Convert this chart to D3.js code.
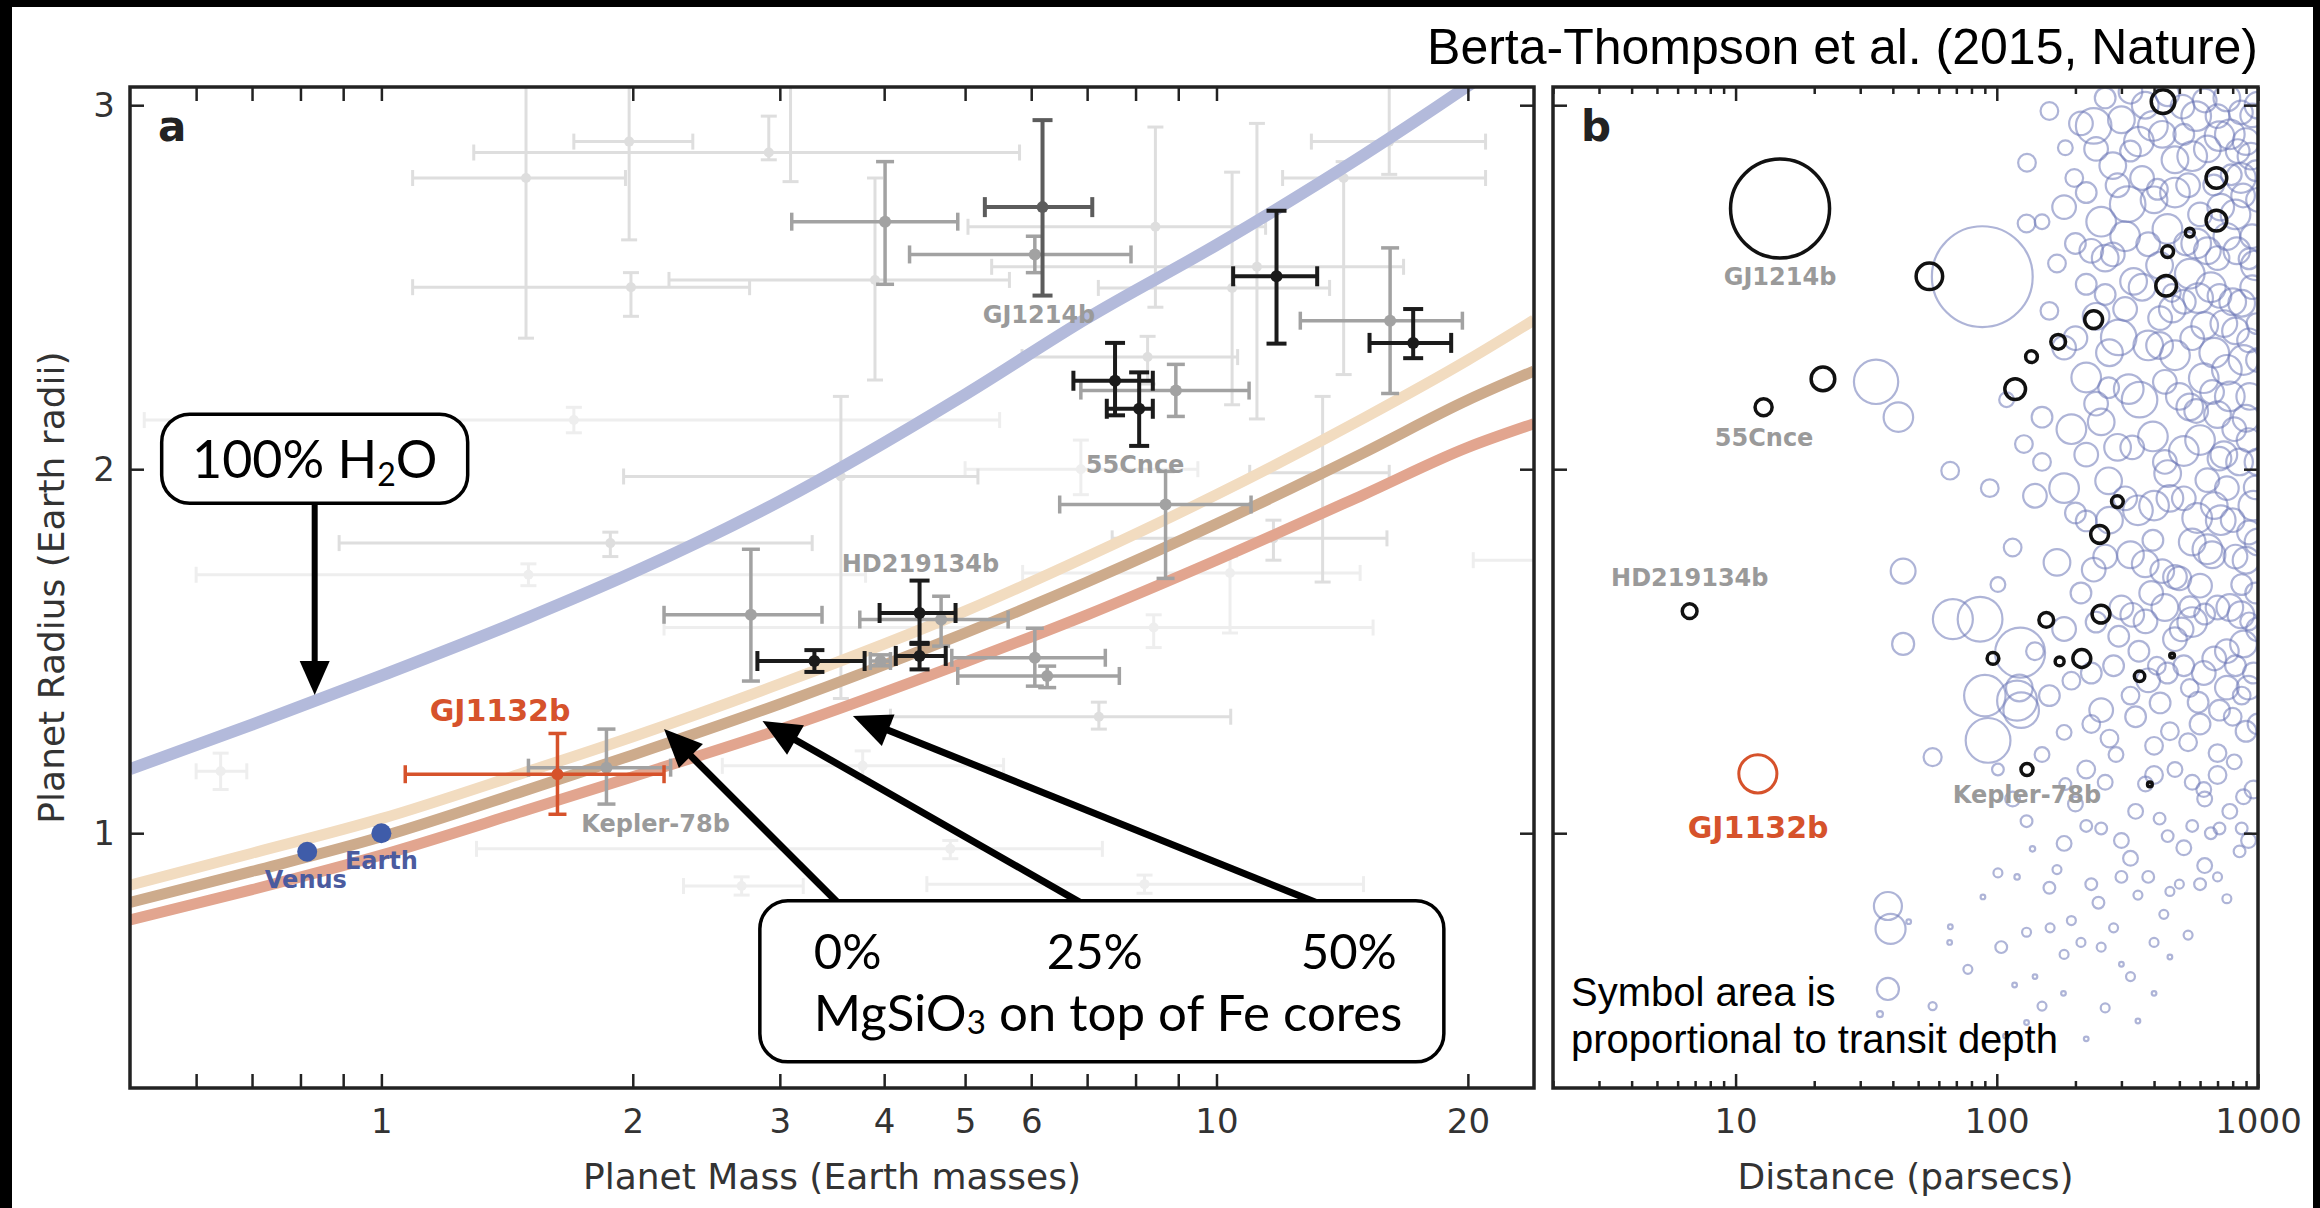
<!DOCTYPE html>
<html>
<head>
<meta charset="utf-8">
<script src="https://cdn.jsdelivr.net/npm/d3@7"></script>
<style>
  body { margin: 0; background: #000; }
  svg { display: block; }
</style>
</head>
<body>
<svg id="chart" width="2320" height="1208"></svg>
<script>
// ---------------- data ----------------
// composition curves (Earth masses -> Earth radii)
const curveMass = [0.5, 0.7, 1, 1.5, 2, 3, 5, 7, 10, 15, 20, 24];
const waterRadius = [1.176, 1.298, 1.433, 1.593, 1.716, 1.912, 2.205, 2.415, 2.616, 2.863, 3.053, 3.179];
const rock0Radius = [0.857, 0.945, 1.04, 1.17, 1.265, 1.41, 1.61, 1.76, 1.93, 2.14, 2.30, 2.41];
const rock25Radius = [0.81, 0.895, 0.99, 1.12, 1.215, 1.355, 1.55, 1.69, 1.85, 2.045, 2.19, 2.27];
const rock50Radius = [0.762, 0.845, 0.94, 1.065, 1.155, 1.285, 1.47, 1.60, 1.75, 1.93, 2.06, 2.125];

// planets with masses: [mass, massLo, massHi, radius, radiusLo, radiusHi]
const faintPlanets = [
  [6.88, 5.0, 9.5, 2.0, 1.93, 2.08],
  [10.38, 5.86, 14.86, 1.715, 1.55, 1.76],
  [8.41, 2.18, 15.4, 1.565, 1.51, 1.60],
  [3.77, 2.56, 5.56, 1.185, 1.149, 1.226],
  [4.8, 1.3, 7.3, 0.957, 0.93, 0.98],
  [2.70, 2.3, 3.2, 0.855, 0.83, 0.88],
  [8.2, 4.5, 15, 0.86, 0.835, 0.885],
  [26, 20.3, 33, 1.75, 1.70, 1.80],
  [0.642, 0.6, 0.69, 1.17, 1.12, 1.22],
  [1.5, 0.6, 3.8, 1.71, 1.68, 1.74],
  [1.7, 0.52, 5.5, 2.135, 2.10, 2.17]
];
const lightPlanets = [
  [1.49, 1.09, 1.96, 2.80, 2.36, 3.10],
  [1.98, 1.70, 2.36, 2.90, 2.63, 3.15],
  [1.99, 1.09, 2.76, 2.50, 2.42, 2.54],
  [2.91, 1.29, 5.81, 2.87, 2.85, 2.97],
  [3.09, 2.6, 3.6, 3.12, 2.79, 3.4],
  [3.9, 2.21, 5.65, 2.52, 2.245, 2.80],
  [8.45, 5.04, 11.45, 2.666, 2.445, 2.94],
  [10.44, 7.22, 13.66, 2.498, 2.177, 2.816],
  [11.18, 5.38, 16.75, 2.556, 2.138, 2.95],
  [14.2, 12.0, 21, 2.80, 2.26, 2.845],
  [16.1, 12.99, 21.0, 2.90, 2.81, 3.2],
  [8.27, 5.85, 10.6, 2.308, 2.234, 2.365],
  [3.55, 1.95, 5.18, 1.98, 1.37, 2.2],
  [13.4, 10.96, 16.1, 1.99, 1.69, 2.2],
  [11.7, 7.5, 16.0, 1.81, 1.75, 1.86],
  [1.88, 0.89, 3.28, 1.797, 1.76, 1.827],
  [7.23, 4.07, 10.4, 1.32, 1.286, 1.36]
];
const grayPlanets = [
  [4.01, 3.10, 4.90, 2.68, 2.508, 2.845],
  [6.06, 4.29, 7.9, 2.59, 2.54, 2.64],
  [16.14, 12.6, 19.7, 2.408, 2.208, 2.608],
  [8.94, 6.88, 10.94, 2.216, 2.145, 2.288],
  [8.69, 6.49, 11.0, 1.903, 1.70, 1.994],
  [2.77, 2.18, 3.37, 1.60, 1.418, 1.78],
  [4.68, 3.74, 5.63, 1.587, 1.514, 1.651],
  [6.06, 4.82, 7.36, 1.482, 1.404, 1.563],
  [6.27, 4.9, 7.65, 1.432, 1.40, 1.459],
  [1.86, 1.5, 2.22, 1.18, 1.08, 1.286],
  [3.96, 3.85, 4.07, 1.473, 1.46, 1.49]
];
const darkPlanets = [
  [11.8, 10.47, 13.2, 2.53, 2.345, 2.71],
  [17.2, 15.25, 19.1, 2.347, 2.305, 2.44],
  [7.56, 6.74, 8.39, 2.243, 2.148, 2.347],
  [8.08, 7.39, 8.39, 2.166, 2.064, 2.266],
  [4.41, 3.95, 4.87, 1.605, 1.52, 1.694],
  [4.41, 4.13, 4.74, 1.487, 1.45, 1.523],
  [3.30, 2.82, 3.79, 1.473, 1.443, 1.503]
];
const gj1214bMass = [6.19, 5.28, 7.1, 2.72, 2.477, 2.959];
const gj1132bMass = [1.625, 1.068, 2.18, 1.162, 1.052, 1.274];
const solarSystem = [["Venus", 0.815, 0.949], ["Earth", 1.0, 1.0]];

// label anchors in data units: [text, mass, radius]
const grayLabelsA = [["GJ1214b", 6.13, 2.424], ["55Cnce", 7.99, 2.012], ["HD219134b", 4.42, 1.74], ["Kepler-78b", 2.13, 1.025]];
const solarLabels = [["Venus", 0.812, 0.871], ["Earth", 1.0, 0.924]];
const gj1132bLabelA = ["GJ1132b", 1.387, 1.338];

// panel b: [distance pc, radius, transit depth %]
const candidates = [
  [234.9, 2.943, 0.174], [325, 3.037, 0.077], [396, 2.943, 0.121], [514, 2.996, 0.077], [625, 3.013, 0.077],
  [712, 2.915, 0.121], [836, 2.874, 0.077], [950, 2.972, 0.077], [325, 2.874, 0.059], [183, 2.883, 0.030],
  [159, 2.984, 0.043], [278, 2.834, 0.098], [481, 2.85, 0.098], [790, 2.809, 0.059],
  [181, 2.72, 0.077], [149, 2.68, 0.030], [251, 2.68, 0.121], [317, 2.728, 0.174], [380, 2.618, 0.077],
  [481, 2.76, 0.121], [600, 2.70, 0.077], [760, 2.639, 0.098], [877, 2.752, 0.077], [170, 2.565, 0.043],
  [220, 2.508, 0.059], [334, 2.516, 0.098], [548, 2.537, 0.121], [712, 2.476, 0.077], [924, 2.578, 0.059],
  [412, 2.769, 0.059], [278, 2.59, 0.077], [677, 2.781, 0.059], [468, 2.484, 0.043], [198, 2.80, 0.043],
  [181, 2.334, 0.077], [220, 2.252, 0.121], [293, 2.362, 0.174], [352, 2.191, 0.174], [481, 2.313, 0.121],
  [625, 2.395, 0.098], [760, 2.273, 0.121], [924, 2.354, 0.077], [149, 2.143, 0.059], [193, 2.11, 0.121],
  [251, 2.13, 0.098], [396, 2.09, 0.121], [548, 2.171, 0.098], [811, 2.11, 0.077], [109, 2.191, 0.030],
  [127, 2.069, 0.043], [422, 2.415, 0.077], [866, 2.456, 0.098], [667, 2.212, 0.077], [268, 2.224, 0.059],
  [159, 2.435, 0.043],
  [94, 1.948, 0.043], [140, 1.927, 0.077], [181, 1.948, 0.121], [220, 1.858, 0.059], [268, 1.968, 0.098],
  [347, 1.887, 0.121], [451, 1.988, 0.098], [585, 1.866, 0.121], [760, 1.948, 0.077], [924, 1.826, 0.077],
  [115, 1.785, 0.043], [170, 1.744, 0.098], [235, 1.724, 0.077], [325, 1.765, 0.098], [481, 1.704, 0.077],
  [667, 1.765, 0.098], [866, 1.683, 0.059], [101, 1.683, 0.030], [396, 1.805, 0.059], [712, 2.029, 0.077],
  [149, 2.02, 0.043],
  [140, 1.50, 0.043], [181, 1.561, 0.077], [293, 1.541, 0.059], [371, 1.582, 0.077], [481, 1.533, 0.077],
  [625, 1.602, 0.059], [760, 1.50, 0.077], [924, 1.582, 0.043], [122, 1.399, 0.098], [159, 1.378, 0.059],
  [193, 1.419, 0.043], [251, 1.338, 0.077], [325, 1.378, 0.043], [422, 1.358, 0.059], [548, 1.399, 0.043],
  [712, 1.338, 0.059], [866, 1.378, 0.043], [90, 1.378, 0.237], [124, 1.338, 0.174], [548, 1.622, 0.059],
  [410, 1.46, 0.043], [181, 1.277, 0.030],
  [101, 1.175, 0.019], [149, 1.216, 0.030], [183, 1.135, 0.019], [220, 1.175, 0.043], [286, 1.216, 0.030],
  [371, 1.135, 0.030], [481, 1.175, 0.030], [625, 1.094, 0.030], [811, 1.196, 0.030], [130, 1.033, 0.019],
  [181, 0.972, 0.030], [251, 1.013, 0.019], [325, 0.931, 0.030], [451, 0.992, 0.019], [625, 0.911, 0.030],
  [866, 1.013, 0.019], [101, 0.891, 0.011], [159, 0.85, 0.019], [245, 0.809, 0.019], [347, 0.83, 0.011],
  [115, 1.094, 0.030], [712, 1.013, 0.019],
  [46, 0.757, 0.003], [66, 0.70, 0.003], [77.5, 0.626, 0.011], [104, 0.687, 0.019], [130, 0.728, 0.011],
  [181, 0.667, 0.011], [251, 0.687, 0.011], [325, 0.606, 0.011], [149, 0.525, 0.011], [108, 0.443, 0.003],
  [220, 0.435, 0.003], [347, 0.484, 0.003], [140, 0.606, 0.003], [193, 0.76, 0.011], [436, 0.777, 0.011],
  [67.9, 1.588, 0.22], [86.3, 1.588, 0.276], [122.8, 1.496, 0.344], [119.6, 1.364, 0.22], [92.6, 1.255, 0.276],
  [56.8, 1.209, 0.045], [43.8, 1.52, 0.067], [43.8, 1.72, 0.085], [38.3, 0.80, 0.108], [39.2, 0.737, 0.124],
  [38.3, 0.572, 0.067], [35.7, 0.503, 0.005], [56.8, 0.525, 0.009], [66.4, 0.743, 0.003], [88.5, 0.825, 0.003],
  [117, 0.583, 0.003], [119.6, 0.88, 0.004], [137, 0.957, 0.004],
  [88, 2.529, 1.4], [34.5, 2.24, 0.27], [42, 2.143, 0.12], [130.5, 2.842, 0.043], [130, 2.675, 0.043],
  [66.3, 1.996, 0.043],
  [430, 2.92, 0.098], [560, 2.86, 0.121], [700, 2.97, 0.077], [900, 2.90, 0.098], [980, 2.82, 0.059],
  [450, 2.66, 0.121], [530, 2.62, 0.077], [640, 2.60, 0.098], [820, 2.70, 0.121], [950, 2.64, 0.077],
  [470, 2.44, 0.098], [590, 2.47, 0.121], [740, 2.40, 0.098], [880, 2.30, 0.121], [990, 2.40, 0.059],
  [440, 2.24, 0.077], [620, 2.25, 0.121], [700, 2.15, 0.098], [930, 2.20, 0.098], [520, 2.05, 0.121],
  [460, 1.92, 0.098], [640, 1.97, 0.077], [850, 2.02, 0.098], [980, 1.95, 0.077], [560, 1.80, 0.098],
  [720, 1.86, 0.121], [900, 1.75, 0.098], [430, 1.72, 0.077], [600, 1.68, 0.077], [780, 1.62, 0.098],
  [980, 1.66, 0.059], [510, 1.56, 0.077], [680, 1.48, 0.077], [880, 1.52, 0.098], [450, 1.44, 0.059],
  [590, 1.36, 0.059], [760, 1.40, 0.077], [960, 1.44, 0.059], [540, 1.25, 0.043], [700, 1.22, 0.043],
  [900, 1.28, 0.059], [620, 1.12, 0.030], [780, 1.06, 0.030], [960, 1.12, 0.043], [560, 1.02, 0.019],
  [850, 0.95, 0.019], [700, 0.88, 0.011], [500, 0.86, 0.011],
  [210, 2.95, 0.077], [300, 2.96, 0.098], [360, 2.80, 0.077], [260, 2.58, 0.098], [200, 2.62, 0.059],
  [310, 2.44, 0.077], [240, 2.42, 0.098], [380, 2.34, 0.121], [330, 2.06, 0.077], [270, 1.86, 0.098],
  [390, 1.66, 0.077], [210, 1.66, 0.059], [300, 1.62, 0.077], [350, 1.50, 0.059], [230, 1.44, 0.059],
  [400, 1.24, 0.043], [270, 1.26, 0.043], [200, 1.08, 0.030], [340, 1.06, 0.030], [300, 0.88, 0.019],
  [260, 3.02, 0.059], [370, 3.0, 0.098], [450, 3.03, 0.077], [580, 2.97, 0.121], [760, 3.02, 0.098],
  [860, 2.98, 0.077], [1000, 3.0, 0.098], [240, 2.88, 0.077], [350, 2.90, 0.121], [520, 2.92, 0.059],
  [640, 2.88, 0.098], [780, 2.92, 0.121], [940, 2.86, 0.098], [220, 2.76, 0.059], [290, 2.78, 0.077],
  [400, 2.74, 0.098], [540, 2.78, 0.077], [720, 2.72, 0.098], [860, 2.80, 0.121], [1000, 2.74, 0.077],
  [230, 2.60, 0.077], [310, 2.64, 0.121], [420, 2.56, 0.098], [580, 2.62, 0.121], [700, 2.58, 0.077],
  [830, 2.60, 0.098], [980, 2.56, 0.121], [260, 2.48, 0.059], [360, 2.50, 0.098], [520, 2.46, 0.077],
  [660, 2.50, 0.121], [800, 2.46, 0.098], [950, 2.50, 0.077], [200, 2.36, 0.077], [270, 2.32, 0.098],
  [420, 2.34, 0.098], [560, 2.36, 0.077], [680, 2.32, 0.121], [820, 2.38, 0.098], [1000, 2.30, 0.077],
  [240, 2.18, 0.077], [320, 2.22, 0.121], [500, 2.20, 0.098], [580, 2.16, 0.077], [780, 2.20, 0.121],
  [900, 2.14, 0.098], [220, 2.04, 0.077], [290, 2.06, 0.098], [440, 2.02, 0.077], [600, 2.08, 0.121],
  [740, 2.04, 0.098], [920, 2.08, 0.077], [1000, 2.02, 0.098], [200, 1.88, 0.059], [310, 1.92, 0.077],
  [400, 1.90, 0.121], [520, 1.92, 0.077], [680, 1.90, 0.098], [800, 1.86, 0.077], [960, 1.90, 0.121],
  [260, 1.76, 0.077], [370, 1.74, 0.098], [500, 1.70, 0.077], [640, 1.78, 0.121], [820, 1.76, 0.077],
  [1000, 1.80, 0.098], [240, 1.58, 0.059], [330, 1.60, 0.077], [440, 1.62, 0.098], [560, 1.58, 0.121],
  [700, 1.62, 0.077], [860, 1.60, 0.098], [1000, 1.56, 0.077], [280, 1.46, 0.059], [380, 1.42, 0.077],
  [520, 1.46, 0.059], [620, 1.44, 0.077], [820, 1.46, 0.059], [920, 1.40, 0.077], [230, 1.30, 0.043],
  [340, 1.32, 0.059], [460, 1.28, 0.043], [600, 1.30, 0.059], [800, 1.32, 0.043], [1000, 1.30, 0.059],
  [260, 1.14, 0.030], [400, 1.16, 0.043], [560, 1.14, 0.030], [700, 1.16, 0.043], [880, 1.10, 0.030],
  [220, 1.02, 0.019], [300, 0.98, 0.030], [420, 1.04, 0.019], [520, 0.96, 0.030], [660, 1.0, 0.019],
  [920, 0.98, 0.030], [170, 0.90, 0.011], [230, 0.86, 0.019], [380, 0.88, 0.019], [460, 0.84, 0.011],
  [600, 0.86, 0.019], [760, 0.82, 0.011], [160, 0.74, 0.011], [210, 0.70, 0.011], [280, 0.74, 0.011],
  [400, 0.70, 0.011], [540, 0.72, 0.011], [300, 0.64, 0.003], [460, 0.66, 0.003], [180, 0.56, 0.003],
  [260, 0.52, 0.011], [400, 0.56, 0.003], [130, 0.48, 0.003]
];
const knownPlanetsB = [
  [14.8, 2.716, 1.35], [12.8, 2.17, 0.04], [6.67, 1.61, 0.03], [130.5, 1.175, 0.02],
  [55.2, 2.53, 0.097], [21.6, 2.248, 0.077], [433, 3.01, 0.077], [693, 2.80, 0.059],
  [693, 2.683, 0.059], [548, 2.65, 0.011], [451, 2.598, 0.019], [445, 2.504, 0.059],
  [234.9, 2.411, 0.044], [171.8, 2.35, 0.030], [135.8, 2.309, 0.019], [117.6, 2.22, 0.059],
  [247.6, 1.821, 0.044], [289.5, 1.911, 0.019], [154.7, 1.586, 0.030], [250.6, 1.602, 0.044],
  [96.7, 1.48, 0.019], [174, 1.472, 0.011], [211.6, 1.48, 0.044], [352, 1.431, 0.015],
  [469, 1.488, 0.003], [385.5, 1.134, 0.003], [289, 3.08, 0.03]
];
const gj1132bDist = [12.17, 1.163, 0.2];
const grayLabelsB = [["GJ1214b", 14.8, 2.528], ["55Cnce", 12.86, 2.086], ["HD219134b", 6.68, 1.701], ["Kepler-78b", 130.5, 1.105]];
const gj1132bLabelB = ["GJ1132b", 12.2, 1.017];

// axes
const massTicks = [0.6, 0.7, 0.8, 0.9, 1, 2, 3, 4, 5, 6, 7, 8, 9, 10, 20];
const massTickLabels = [1, 2, 3, 4, 5, 6, 10, 20];
const radiusTicks = [1, 2, 3];
const distMajor = [10, 100, 1000];

// ---------------- layout ----------------
const svg = d3.select("#chart");
const plotTop = 87, plotBottom = 1088;
const xA = d3.scaleLog().domain([0.5, 24]).range([130, 1534]);
const xB = d3.scaleLog().domain([2, 1000]).range([1553, 2258]);
const y = d3.scaleLinear().domain([0.3, 3.05]).range([plotBottom, plotTop]);
const depthR = d3.scaleSqrt().domain([0, 1.35]).range([0, 49.5]);

const tickFont = "DejaVu Sans";
const textGray = "#333";

// page background: black border, white sheet
svg.append("rect").attr("width", 2320).attr("height", 1208).attr("fill", "#000");
svg.append("rect").attr("x", 12).attr("y", 7).attr("width", 2301).attr("height", 1201).attr("fill", "#fff");

const defs = svg.append("defs");
defs.append("clipPath").attr("id", "clipA").append("rect")
  .attr("x", 130).attr("y", plotTop).attr("width", 1534 - 130).attr("height", plotBottom - plotTop);
defs.append("clipPath").attr("id", "clipB").append("rect")
  .attr("x", 1553).attr("y", plotTop).attr("width", 2258 - 1553).attr("height", plotBottom - plotTop);

// ---------------- panel a ----------------
const gA = svg.append("g").attr("clip-path", "url(#clipA)");

function errorbars(g, rows, color, lw, cap, dot) {
  const e = g.append("g").attr("stroke", color).attr("stroke-width", lw).attr("fill", color)
    .selectAll("g").data(rows).join("g");
  e.append("line")
    .attr("x1", d => xA(d[1])).attr("x2", d => xA(d[2]))
    .attr("y1", d => y(d[3])).attr("y2", d => y(d[3]));
  e.append("line")
    .attr("x1", d => xA(d[0])).attr("x2", d => xA(d[0]))
    .attr("y1", d => y(d[4])).attr("y2", d => y(d[5]));
  [1, 2].forEach(i => {
    e.append("line")
      .attr("x1", d => xA(d[i])).attr("x2", d => xA(d[i]))
      .attr("y1", d => y(d[3]) - cap).attr("y2", d => y(d[3]) + cap);
  });
  [4, 5].forEach(i => {
    e.append("line")
      .attr("x1", d => xA(d[0]) - cap).attr("x2", d => xA(d[0]) + cap)
      .attr("y1", d => y(d[i])).attr("y2", d => y(d[i]));
  });
  e.append("circle").attr("cx", d => xA(d[0])).attr("cy", d => y(d[3])).attr("r", dot).attr("stroke", "none");
}

errorbars(gA, faintPlanets, "#eeeeee", 3, 8, 5);
errorbars(gA, lightPlanets, "#dedede", 3, 8, 5);

const line = d3.line().x(d => xA(d[0])).y(d => y(d[1])).curve(d3.curveMonotoneX);
const curves = [
  [rock50Radius, "#e2a58f", 11],
  [rock25Radius, "#cdab8c", 11],
  [rock0Radius, "#f2dcc0", 11],
  [waterRadius, "#b3badb", 12]
];
curves.forEach(([radii, color, w]) => {
  gA.append("path")
    .datum(curveMass.map((m, i) => [m, radii[i]]))
    .attr("d", line).attr("fill", "none").attr("stroke", color).attr("stroke-width", w);
});

errorbars(gA, grayPlanets, "#a2a2a2", 3.5, 9, 6);
errorbars(gA, [gj1214bMass], "#5c5c5c", 4, 10, 6);
errorbars(gA, darkPlanets, "#1b1b1b", 4, 10, 6);
errorbars(gA, [gj1132bMass], "#d6522b", 3.5, 9, 6);

gA.append("g").selectAll("circle").data(solarSystem).join("circle")
  .attr("cx", d => xA(d[1])).attr("cy", d => y(d[2])).attr("r", 10).attr("fill", "#3f5ca9");

// labels
const labelA = svg.append("g").attr("font-family", tickFont).attr("font-weight", "bold")
  .attr("text-anchor", "middle").attr("dominant-baseline", "central");
labelA.selectAll(".g").data(grayLabelsA).join("text")
  .attr("x", d => xA(d[1])).attr("y", d => y(d[2])).attr("font-size", 24).attr("fill", "#9a9a9a").text(d => d[0]);
labelA.selectAll(".s").data(solarLabels).join("text")
  .attr("x", d => xA(d[1])).attr("y", d => y(d[2])).attr("font-size", 24).attr("fill", "#4b5b9f").text(d => d[0]);
labelA.append("text").attr("x", xA(gj1132bLabelA[1])).attr("y", y(gj1132bLabelA[2]))
  .attr("font-size", 30).attr("fill", "#d6522b").text(gj1132bLabelA[0]);

// annotation boxes and arrows (anchored in data coordinates)
const ann = svg.append("g");
function arrow(x1, y1, x2, y2, w, head, half) {
  const dx = x2 - x1, dy = y2 - y1, len = Math.hypot(dx, dy);
  const ux = dx / len, uy = dy / len;
  const bx = x2 - ux * head, by = y2 - uy * head;
  ann.append("line").attr("x1", x1).attr("y1", y1).attr("x2", bx + ux * 4).attr("y2", by + uy * 4)
    .attr("stroke", "#000").attr("stroke-width", w);
  ann.append("path")
    .attr("d", `M${x2},${y2}L${bx - uy * half},${by + ux * half}L${bx + uy * half},${by - ux * half}Z`)
    .attr("fill", "#000");
}
function roundBox(cx, cy, w, h) {
  ann.append("rect").attr("x", cx - w / 2).attr("y", cy - h / 2).attr("width", w).attr("height", h)
    .attr("rx", 28).attr("fill", "#fff").attr("stroke", "#000").attr("stroke-width", 3.5);
}
const annFont = "Lato";

// 100% H2O
const h2oX = xA(0.832), h2oY = y(2.029);
arrow(h2oX, h2oY + 44, xA(0.832), y(1.38), 6, 34, 15);
roundBox(h2oX, h2oY, 306, 89);
const h2o = ann.append("text").attr("x", h2oX).attr("y", h2oY + 19).attr("text-anchor", "middle")
  .attr("font-family", annFont).attr("font-size", 52).attr("fill", "#000");
h2o.append("tspan").text("100% H");
h2o.append("tspan").attr("font-size", 32).attr("dy", 8).text("2");
h2o.append("tspan").attr("dy", -8).text("O");

// MgSiO3 box
const boxX = xA(7.29), boxY = y(0.593), boxW = 684, boxH = 161;
const bx0 = boxX - boxW / 2, by0 = boxY - boxH / 2;
const compTips = [[2.18, 1.286], [2.86, 1.308], [3.67, 1.322]];
const compStarts = [78, 321, 557];
compTips.forEach((t, i) => arrow(bx0 + compStarts[i], by0 + 2, xA(t[0]), y(t[1]), 7, 38, 17));
roundBox(boxX, boxY, boxW, boxH);
const compText = ann.append("g").attr("font-family", annFont).attr("font-size", 49).attr("fill", "#000");
compText.append("text").attr("x", bx0 + 54).attr("y", by0 + 68).text("0%");
compText.append("text").attr("x", bx0 + 335).attr("y", by0 + 68).attr("text-anchor", "middle").text("25%");
compText.append("text").attr("x", bx0 + 637).attr("y", by0 + 68).attr("text-anchor", "end").text("50%");
const mg = compText.append("text").attr("x", bx0 + 54).attr("y", by0 + 130).attr("font-size", 51);
mg.append("tspan").text("MgSiO");
mg.append("tspan").attr("font-size", 33).attr("dy", 3).text("3");
mg.append("tspan").attr("dy", -3).text(" on top of Fe cores");

// ---------------- panel b ----------------
const gB = svg.append("g").attr("clip-path", "url(#clipB)");
gB.append("g").selectAll("circle").data(candidates).join("circle")
  .attr("cx", d => xB(d[0])).attr("cy", d => y(d[1])).attr("r", d => Math.max(2, depthR(d[2])))
  .attr("fill", "none").attr("stroke", "#6c77b6").attr("stroke-opacity", 0.55).attr("stroke-width", 2.2);
gB.append("g").selectAll("circle").data(knownPlanetsB).join("circle")
  .attr("cx", d => xB(d[0])).attr("cy", d => y(d[1])).attr("r", d => Math.max(2.2, depthR(d[2])))
  .attr("fill", "none").attr("stroke", "#111").attr("stroke-width", 3.5);
gB.append("circle").attr("cx", xB(gj1132bDist[0])).attr("cy", y(gj1132bDist[1]))
  .attr("r", depthR(gj1132bDist[2])).attr("fill", "none").attr("stroke", "#d6522b").attr("stroke-width", 3);

const labelB = svg.append("g").attr("font-family", tickFont).attr("font-weight", "bold")
  .attr("text-anchor", "middle").attr("dominant-baseline", "central");
labelB.selectAll("text.g").data(grayLabelsB).join("text")
  .attr("x", d => xB(d[1])).attr("y", d => y(d[2])).attr("font-size", 24).attr("fill", "#9a9a9a").text(d => d[0]);
labelB.append("text").attr("x", xB(gj1132bLabelB[1])).attr("y", y(gj1132bLabelB[2]))
  .attr("font-size", 30).attr("fill", "#d6522b").text(gj1132bLabelB[0]);

const note = svg.append("text").attr("font-family", "Liberation Sans").attr("font-size", 40).attr("fill", "#000");
note.append("tspan").attr("x", 1571).attr("y", 1006).text("Symbol area is");
note.append("tspan").attr("x", 1571).attr("y", 1053).text("proportional to transit depth");

// ---------------- axes ----------------
function styleAxis(g) {
  g.select(".domain").remove();
  g.selectAll(".tick line").attr("stroke", "#222").attr("stroke-width", 2.5);
  g.selectAll(".tick text").attr("font-family", tickFont).attr("font-size", 34).attr("fill", textGray);
}
const fmtMass = d => massTickLabels.includes(d) ? d : "";

svg.append("g").attr("transform", `translate(0,${plotBottom})`)
  .call(d3.axisBottom(xA).tickValues(massTicks).tickSize(-14).tickPadding(21).tickFormat(fmtMass)).call(styleAxis);
svg.append("g").attr("transform", `translate(0,${plotTop})`)
  .call(d3.axisTop(xA).tickValues(massTicks).tickSize(-14).tickFormat("")).call(styleAxis);
svg.append("g").attr("transform", `translate(${xA.range()[0]},0)`)
  .call(d3.axisLeft(y).tickValues(radiusTicks).tickSize(-14).tickPadding(15).tickFormat(d3.format("d"))).call(styleAxis);
svg.append("g").attr("transform", `translate(${xA.range()[1]},0)`)
  .call(d3.axisRight(y).tickValues(radiusTicks).tickSize(-14).tickFormat("")).call(styleAxis);

const distMinor = xB.ticks().filter(v => !distMajor.includes(v));
svg.append("g").attr("transform", `translate(0,${plotBottom})`)
  .call(d3.axisBottom(xB).tickValues(distMajor).tickSize(-14).tickPadding(21).tickFormat(d3.format("d"))).call(styleAxis);
svg.append("g").attr("transform", `translate(0,${plotBottom})`)
  .call(d3.axisBottom(xB).tickValues(distMinor).tickSize(-7).tickFormat("")).call(styleAxis);
svg.append("g").attr("transform", `translate(0,${plotTop})`)
  .call(d3.axisTop(xB).tickValues(distMajor).tickSize(-14).tickFormat("")).call(styleAxis);
svg.append("g").attr("transform", `translate(0,${plotTop})`)
  .call(d3.axisTop(xB).tickValues(distMinor).tickSize(-7).tickFormat("")).call(styleAxis);
svg.append("g").attr("transform", `translate(${xB.range()[0]},0)`)
  .call(d3.axisLeft(y).tickValues(radiusTicks).tickSize(-14).tickFormat("")).call(styleAxis);
svg.append("g").attr("transform", `translate(${xB.range()[1]},0)`)
  .call(d3.axisRight(y).tickValues(radiusTicks).tickSize(-14).tickFormat("")).call(styleAxis);

// frames
[[xA, "a"], [xB, "b"]].forEach(([x, name]) => {
  const [x0, x1] = x.range();
  svg.append("rect").attr("x", x0).attr("y", plotTop).attr("width", x1 - x0).attr("height", plotBottom - plotTop)
    .attr("fill", "none").attr("stroke", "#222").attr("stroke-width", 3.5);
  svg.append("text").attr("x", x0 + 28).attr("y", plotTop + 54)
    .attr("font-family", tickFont).attr("font-weight", "bold").attr("font-size", 42).attr("fill", "#222").text(name);
});

// axis titles
const axisTitle = svg.append("g").attr("font-family", tickFont).attr("font-size", 36).attr("fill", textGray)
  .attr("text-anchor", "middle");
axisTitle.append("text").attr("x", (xA.range()[0] + xA.range()[1]) / 2).attr("y", 1189).text("Planet Mass (Earth masses)");
axisTitle.append("text").attr("x", (xB.range()[0] + xB.range()[1]) / 2).attr("y", 1189).text("Distance (parsecs)");
axisTitle.append("text").attr("transform", `translate(64,${(plotTop + plotBottom) / 2}) rotate(-90)`).text("Planet Radius (Earth radii)");

svg.append("text").attr("x", 2258).attr("y", 64).attr("text-anchor", "end")
  .attr("font-family", "Liberation Sans").attr("font-size", 50).attr("fill", "#000")
  .text("Berta-Thompson et al. (2015, Nature)");
</script>
</body>
</html>
